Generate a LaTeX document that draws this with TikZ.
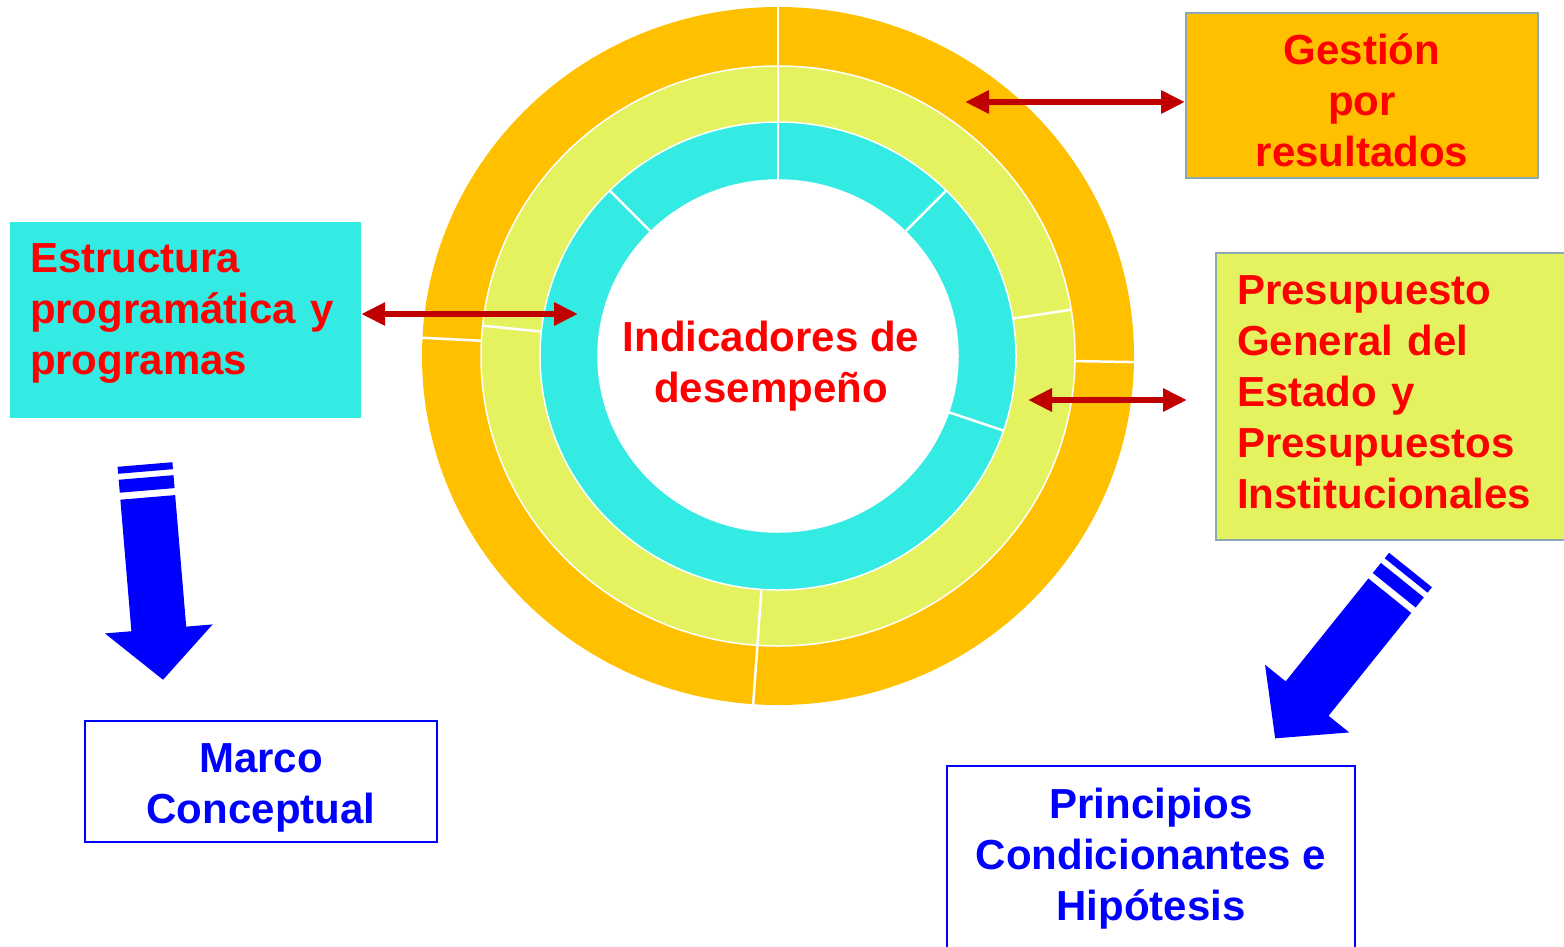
\documentclass[tikz,border=0pt]{standalone}
\usepackage{fontspec}
\setmainfont{Liberation Sans}
\usetikzlibrary{arrows.meta, positioning, calc}

\definecolor{ringOrange}{HTML}{FFC000}
\definecolor{ringLime}{HTML}{E4F25F}
\definecolor{ringCyan}{HTML}{33EBE2}
\definecolor{boxEdge}{HTML}{8CA8B2}
\definecolor{darkRed}{HTML}{C00000}
\definecolor{arrowBlue}{HTML}{0000FF}

\newcommand{\padTop}[1]{\rule{0pt}{#1}}
\newcommand{\padBottom}[1]{\rule[-#1]{0pt}{#1}}

\tikzstyle{bigFont} = [font=\bfseries\fontsize{42}{51}\selectfont]
\tikzstyle{redText} = [bigFont, text=red]
\tikzstyle{blueText} = [bigFont, text=arrowBlue]
\tikzstyle{orangeBox} = [rectangle, redText,
minimum width=352pt,
minimum height=165pt,
align=center,
draw=boxEdge, line width=2pt,
fill=ringOrange]
\tikzstyle{tealBox} = [rectangle, redText,
text width=311pt, inner xsep=20pt,
minimum height=196pt,
align=left,
fill=ringCyan]
\tikzstyle{limeBox} = [rectangle, redText,
text width=322pt, inner xsep=21pt,
minimum height=287pt,
align=left,
draw=boxEdge, line width=2pt,
fill=ringLime]
\tikzstyle{whiteBox} = [rectangle, blueText,
align=center,
draw=arrowBlue, line width=2pt,
fill=white]
\tikzstyle{centerText} = [redText, align=center, inner sep=0pt]
\tikzstyle{ringEdge} = [draw=white, line width=1.5pt]
\tikzstyle{divider} = [white, line width=2.5pt]
\tikzstyle{biarrow} = [darkRed, line width=6pt,
{Triangle[length=24pt,width=22pt]}-{Triangle[length=24pt,width=22pt]}]

\tikzset{
pics/stripedArrow/.style={code={
\fill[arrowBlue] (-27.5,0) rectangle (27.5,7);
\fill[arrowBlue] (-27.5,13) rectangle (27.5,26);
\fill[arrowBlue] (-27.5,33) -- (27.5,33) -- (27.5,165) -- (54,165)
  -- (0,216) -- (-54,165) -- (-27.5,165) -- cycle;
}}
}

\begin{document}
\begin{tikzpicture}[x=1pt, y=-1pt]
\useasboundingbox (0,0) rectangle (1564,946);
\clip (0,0) rectangle (1564,946);
\fill[white] (0,0) rectangle (1564,946);

\coordinate (ctr) at (778,356);
\fill[ringOrange] (ctr) ellipse [x radius=356pt, y radius=349pt];
\filldraw[ringEdge, fill=ringLime] (ctr) ellipse [x radius=297pt, y radius=290pt];
\filldraw[ringEdge, fill=ringCyan] (ctr) ellipse [x radius=238pt, y radius=234pt];
\filldraw[ringEdge, fill=white] (ctr) ellipse [x radius=180pt, y radius=176pt];
\foreach \ang/\ra/\rb/\rc/\rd in {90/180/176/357/350, 135/180/176/238/234,
  45/180/176/238/234, -18.6/180/176/238/234, 174/238/234/297/290,
  9.2/238/234/297/290, -94/238/234/357/350, 177/297/290/357/350,
  -1/297/290/357/350}
  \draw[divider] ($(ctr)+(\ang:\ra pt and \rb pt)$) -- ($(ctr)+(\ang:\rc pt and \rd pt)$);

\node (indicadores) [centerText] at (771,366) {Indicadores de\\desempeño};
\node (gestion) [orangeBox] at (1362,95.5) {\padTop{40pt}Gestión\\por\\resultados};
\node (estructura) [tealBox] at (185.5,320) {Estructura\\programática y\\programas\padBottom{21pt}};
\node (presupuesto) [limeBox] at (1398,396.5) {Presupuesto\\General del\\Estado y\\Presupuestos\\Institucionales\padBottom{8pt}};
\node (marco) [whiteBox, minimum width=352pt, minimum height=121pt] at (261,781.5) {\padTop{42pt}Marco\\Conceptual};
\node (principios) [whiteBox, minimum width=408pt, minimum height=185pt] at (1151,858.5) {Principios\\Condicionantes e\\Hipótesis};

\coordinate (gprTip) at (965,102);
\coordinate (estTip) at (578,314);
\coordinate (pgeTip) at (1028,400);

\draw[biarrow] (gprTip) -- (gprTip -| gestion.west);
\draw[biarrow] (estTip -| estructura.east) -- (estTip);
\draw[biarrow, shorten >=28pt] (pgeTip) -- (pgeTip -| presupuesto.west);

\pic[rotate=4.8] at (145,464.5) {stripedArrow};
\pic[rotate=-38.8] at (1410.5,570) {stripedArrow};
\end{tikzpicture}
\end{document}
